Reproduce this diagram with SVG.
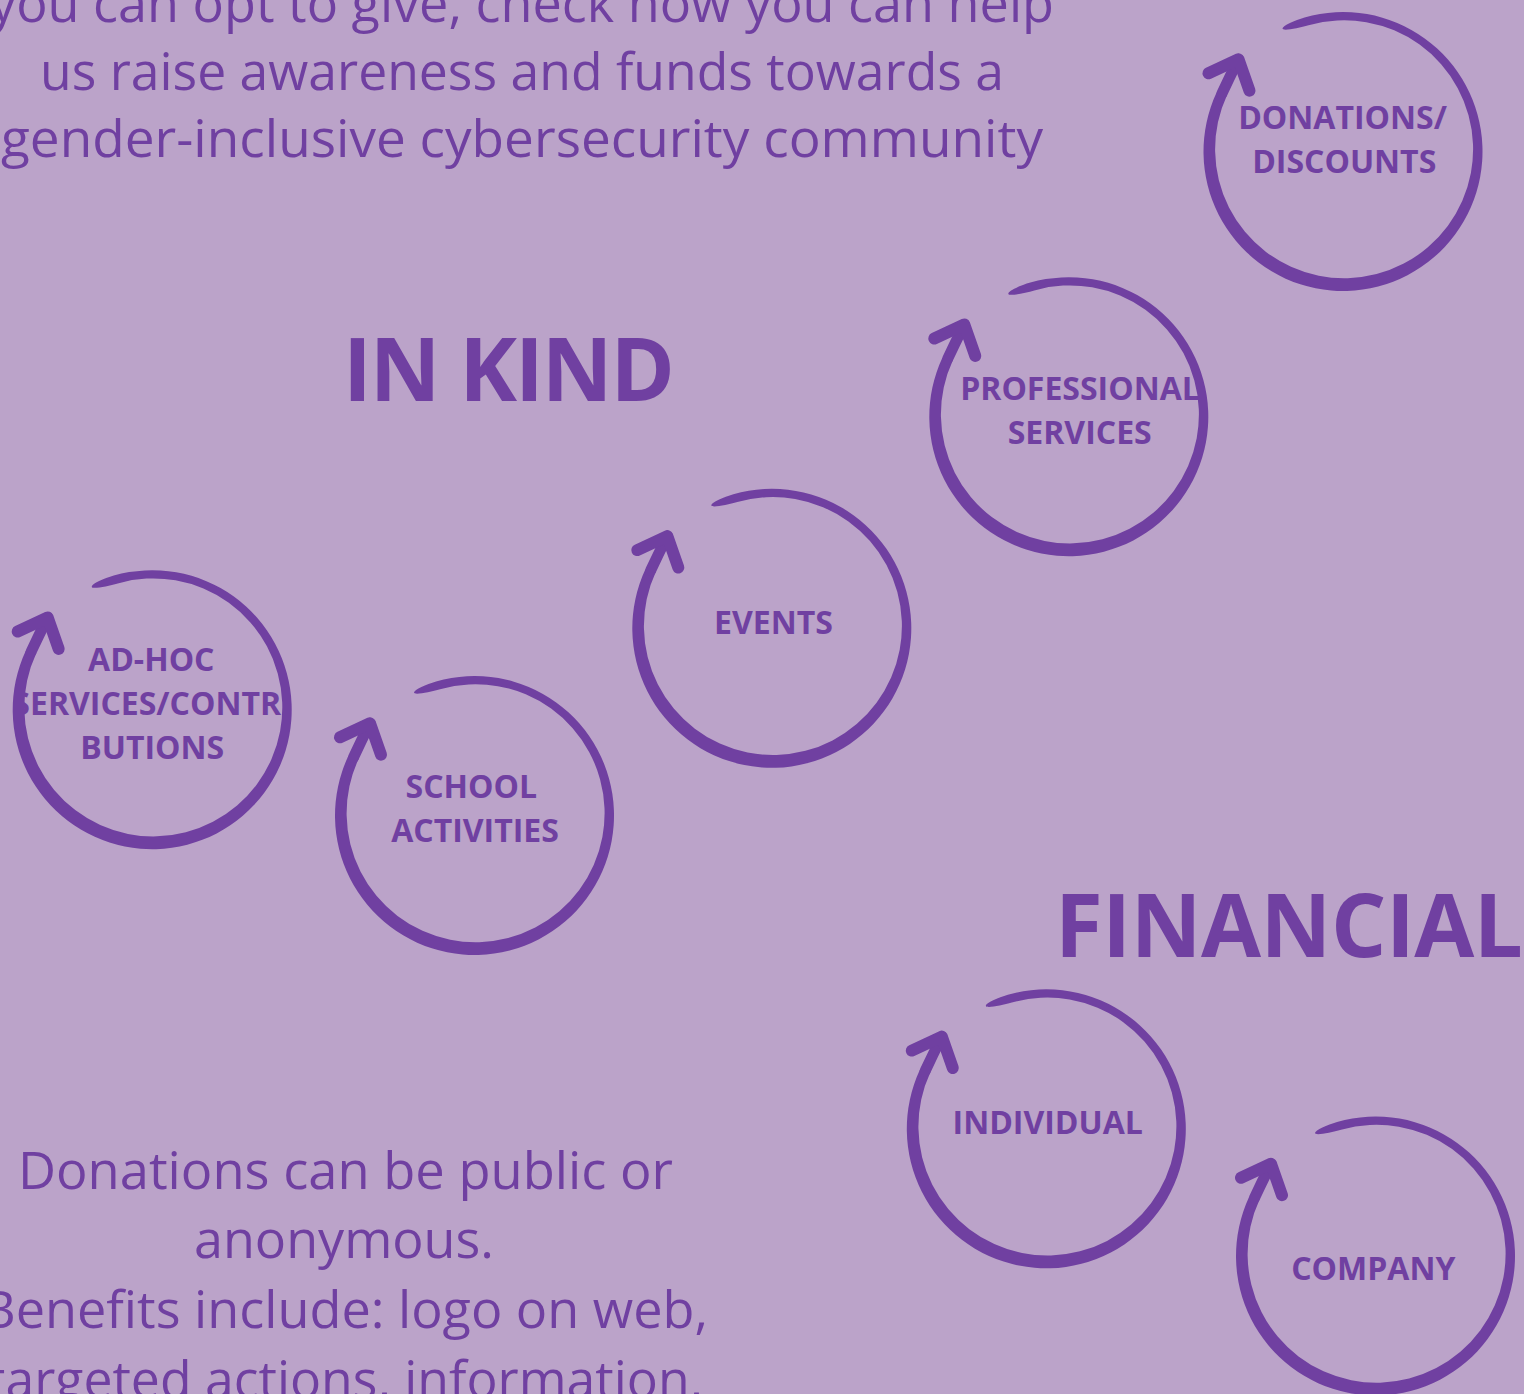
<svg xmlns="http://www.w3.org/2000/svg" width="1524" height="1394" viewBox="0 0 1524 1394">
<style>
.bg{fill:#BBA3C9}
.ring{fill:#7040A1}
.shaft{fill:none;stroke:#7040A1;stroke-width:11;stroke-linecap:round}
.head{fill:none;stroke:#7040A1;stroke-width:12;stroke-linecap:round;stroke-linejoin:round}
.lbl{font-family:"Open Sans","Liberation Sans",sans-serif;font-weight:700;font-size:32px;fill:#7040A1;text-anchor:middle}
.h{font-family:"Open Sans","Liberation Sans",sans-serif;font-weight:700;font-size:87px;fill:#7040A1}
.body{font-family:"Open Sans","Liberation Sans",sans-serif;font-weight:400;font-size:51px;fill:#7040A1;text-anchor:middle}
</style>
<defs>
<g id="arrowRing">
<path class="ring" d="M -60.5 -123 C -60.5 -126 -48.06 -131.34 -38.45 -134.1 A 139.5 139.5 0 1 1 -126.43 -58.95 L -115.81 -56.82 A 129 129 0 1 0 -34.46 -126.3 C -44.07 -123.54 -60.5 -120 -60.5 -123 Z"/>
<path class="shaft" d="M -121.1 -57.9 Q -113.5 -74.2 -104.5 -92.2"/>
<path class="head" d="M -134.5 -78.2 L -104.5 -92.2 L -93.5 -60.8"/>
</g>
</defs>
<rect class="bg" x="0" y="0" width="1524" height="1394"/>

<g id="intro-text">
<text class="body" x="522" y="22" textLength="1064" lengthAdjust="spacingAndGlyphs">you can opt to give, check how you can help</text>
<text class="body" x="522" y="90" textLength="964" lengthAdjust="spacingAndGlyphs">us raise awareness and funds towards a</text>
<text class="body" x="522" y="157" textLength="1042" lengthAdjust="spacingAndGlyphs">gender-inclusive cybersecurity community</text>
</g>

<g id="heading-in-kind">
<text class="h" x="343" y="401" textLength="332" lengthAdjust="spacing">IN KIND</text>
</g>

<g id="heading-financial">
<text class="h" x="1055" y="957" textLength="468" lengthAdjust="spacing">FINANCIAL</text>
</g>

<g id="node-donations">
<use href="#arrowRing" transform="translate(1343 151.5)"/>
<text class="lbl" x="1342.5" y="129">DONATIONS/</text>
<text class="lbl" x="1344.2" y="173">DISCOUNTS</text>
</g>

<g id="node-professional">
<use href="#arrowRing" transform="translate(1068.8 416.7)"/>
<text class="lbl" x="1080" y="400">PROFESSIONAL</text>
<text class="lbl" x="1079.7" y="444">SERVICES</text>
</g>

<g id="node-events">
<use href="#arrowRing" transform="translate(771.8 628.3)"/>
<text class="lbl" x="773.4" y="634">EVENTS</text>
</g>

<g id="node-adhoc">
<use href="#arrowRing" transform="translate(152.2 709.7)"/>
<text class="lbl" x="151.3" y="671">AD-HOC</text>
<text class="lbl" x="152" y="715">SERVICES/CONTRI</text>
<text class="lbl" x="152.2" y="759">BUTIONS</text>
</g>

<g id="node-school">
<use href="#arrowRing" transform="translate(474.5 815.5)"/>
<text class="lbl" x="471.3" y="798">SCHOOL</text>
<text class="lbl" x="475" y="842">ACTIVITIES</text>
</g>

<g id="node-individual">
<use href="#arrowRing" transform="translate(1046.3 1128.8)"/>
<text class="lbl" x="1047.7" y="1134">INDIVIDUAL</text>
</g>

<g id="node-company">
<use href="#arrowRing" transform="translate(1375.5 1256)"/>
<text class="lbl" x="1373.3" y="1280">COMPANY</text>
</g>

<g id="donations-text">
<text class="body" x="345.5" y="1189" textLength="655" lengthAdjust="spacingAndGlyphs">Donations can be public or</text>
<text class="body" x="344" y="1258" textLength="300" lengthAdjust="spacingAndGlyphs">anonymous.</text>
<text class="body" x="345" y="1328" textLength="726" lengthAdjust="spacingAndGlyphs">Benefits include: logo on web,</text>
<text class="body" x="345" y="1398" textLength="716" lengthAdjust="spacingAndGlyphs">targeted actions, information,</text>
</g>
</svg>
